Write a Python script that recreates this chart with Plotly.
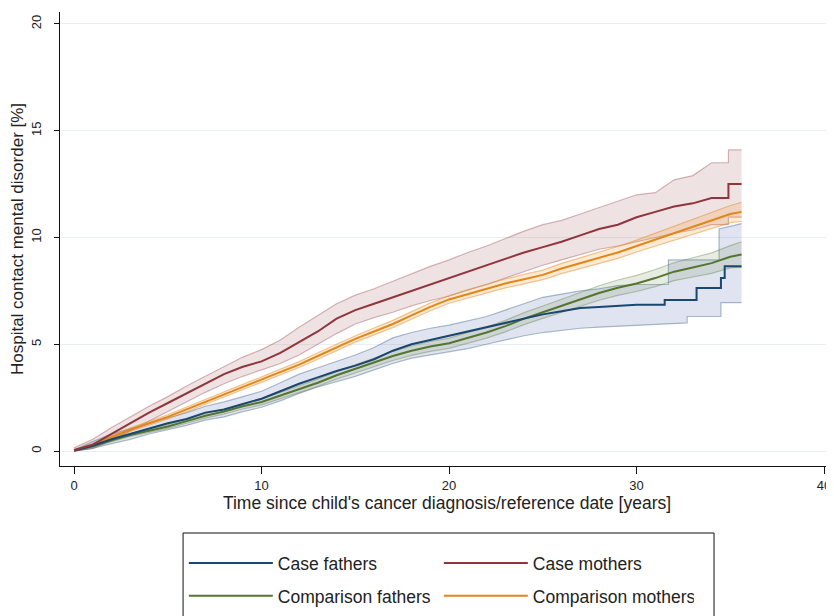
import plotly.graph_objects as go

# ---------------- data ----------------
years = [0, 1, 2, 3, 4, 5, 6, 7, 8, 9, 10, 11, 12, 13, 14, 15, 16, 17, 18, 19, 20,
         21, 22, 23, 24, 25, 26, 27, 28, 29, 30]

# Case mothers
cm_t = years + [31, 32, 33, 34, 34.9, 34.9, 35.6]
cm_v = [0.05, 0.3, 0.8, 1.3, 1.8, 2.25, 2.7, 3.15, 3.6, 3.95, 4.2, 4.6, 5.1, 5.6, 6.2, 6.6,
        6.9, 7.2, 7.5, 7.8, 8.1, 8.4, 8.7, 9.0, 9.3, 9.55, 9.8, 10.1, 10.4, 10.6, 10.95,
        11.2, 11.45, 11.6, 11.85, 11.85, 12.5, 12.5]
cm_up_t = years + [31, 32, 33, 34, 34.9, 34.9, 35.6]
cm_up = [0.15, 0.55, 1.1, 1.6, 2.1, 2.55, 3.05, 3.5, 3.95, 4.4, 4.75, 5.2, 5.8, 6.35, 6.9,
         7.3, 7.6, 7.95, 8.3, 8.65, 8.95, 9.3, 9.6, 9.95, 10.3, 10.6, 10.8, 11.1, 11.4, 11.7,
         12.0, 12.1, 12.7, 12.9, 13.5, 13.5, 14.1, 14.1]
cm_lo = [0.0, 0.12, 0.5, 0.95, 1.4, 1.85, 2.3, 2.75, 3.15, 3.5, 3.8, 4.1, 4.5, 5.0, 5.5,
         5.95, 6.25, 6.5, 6.8, 7.05, 7.25, 7.55, 7.8, 8.1, 8.4, 8.7, 8.95, 9.2, 9.45, 9.6,
         9.8, 10.0, 10.2, 10.35, 10.6, 10.6, 10.95, 10.95]

# Comparison mothers
co_m_t = years + [31, 32, 33, 34, 35, 35.6]
co_m_v = [0.02, 0.3, 0.65, 1.0, 1.3, 1.6, 1.95, 2.3, 2.65, 3.0, 3.35, 3.7, 4.05, 4.45, 4.85,
          5.25, 5.6, 5.95, 6.35, 6.75, 7.1, 7.35, 7.6, 7.85, 8.05, 8.25, 8.55, 8.8, 9.05,
          9.3, 9.6, 9.9, 10.2, 10.5, 10.8, 11.1, 11.2]
co_m_up = [0.05, 0.35, 0.72, 1.08, 1.39, 1.7, 2.06, 2.41, 2.77, 3.12, 3.47, 3.83, 4.19, 4.6,
           5.0, 5.4, 5.76, 6.12, 6.53, 6.93, 7.28, 7.54, 7.8, 8.06, 8.27, 8.47, 8.79, 9.05,
           9.31, 9.58, 9.88, 10.2, 10.52, 10.84, 11.17, 11.5, 11.65]
co_m_lo = [0.0, 0.25, 0.58, 0.92, 1.21, 1.5, 1.84, 2.19, 2.53, 2.88, 3.23, 3.57, 3.91, 4.3,
           4.7, 5.1, 5.44, 5.78, 6.17, 6.57, 6.92, 7.16, 7.4, 7.64, 7.83, 8.03, 8.31, 8.55,
           8.79, 9.02, 9.32, 9.6, 9.88, 10.16, 10.43, 10.7, 10.75]

# Comparison fathers
co_f_t = years + [31, 32, 33, 34, 35, 35.6]
co_f_v = [0.02, 0.22, 0.5, 0.75, 0.95, 1.15, 1.4, 1.65, 1.85, 2.1, 2.3, 2.6, 2.9, 3.2, 3.55,
          3.85, 4.15, 4.45, 4.7, 4.9, 5.05, 5.3, 5.55, 5.85, 6.2, 6.5, 6.8, 7.1, 7.4, 7.65,
          7.85, 8.1, 8.4, 8.6, 8.8, 9.1, 9.2]
co_f_up = [0.05, 0.27, 0.56, 0.82, 1.03, 1.24, 1.5, 1.76, 1.97, 2.23, 2.44, 2.75, 3.06, 3.37,
           3.73, 4.04, 4.35, 4.66, 4.92, 5.13, 5.29, 5.55, 5.81, 6.12, 6.48, 6.79, 7.1, 7.42,
           7.74, 8.01, 8.23, 8.5, 8.82, 9.05, 9.28, 9.62, 9.8]
co_f_lo = [0.0, 0.17, 0.44, 0.68, 0.87, 1.06, 1.3, 1.54, 1.73, 1.97, 2.16, 2.45, 2.74, 3.03,
           3.37, 3.66, 3.95, 4.24, 4.48, 4.67, 4.81, 5.05, 5.29, 5.58, 5.92, 6.21, 6.5, 6.78,
           7.06, 7.29, 7.47, 7.7, 7.98, 8.15, 8.32, 8.58, 8.6]

# Case fathers
cf_t = years + [31.5, 31.5, 33.2, 33.2, 34.5, 34.5, 34.7, 34.7, 35.6]
cf_v = [0.02, 0.25, 0.55, 0.8, 1.05, 1.3, 1.5, 1.8, 1.95, 2.2, 2.45, 2.8, 3.15, 3.45, 3.75,
        4.0, 4.3, 4.7, 5.0, 5.2, 5.4, 5.6, 5.8, 6.0, 6.2, 6.4, 6.55, 6.7, 6.75, 6.8, 6.85,
        6.85, 7.07, 7.07, 7.63, 7.63, 8.1, 8.1, 8.65, 8.65]
cf_up_t = years + [31.7, 31.7, 34.4, 34.4, 35.6]
cf_up = [0.05, 0.45, 0.8, 1.05, 1.3, 1.55, 1.8, 2.1, 2.3, 2.55, 2.8, 3.2, 3.6, 3.9, 4.2, 4.5,
         4.85, 5.3, 5.55, 5.75, 5.9, 6.1, 6.3, 6.6, 6.9, 7.2, 7.35, 7.5, 7.6, 7.75, 7.8,
         7.8, 8.95, 8.95, 10.4, 10.65]
cf_lo_t = years + [32.7, 32.7, 34.5, 34.5, 35.6]
cf_lo = [0.0, 0.12, 0.35, 0.55, 0.8, 1.0, 1.2, 1.45, 1.6, 1.85, 2.05, 2.35, 2.7, 3.0, 3.25,
         3.5, 3.8, 4.1, 4.35, 4.5, 4.65, 4.8, 5.0, 5.2, 5.4, 5.55, 5.65, 5.75, 5.8, 5.85, 5.9,
         6.0, 6.3, 6.3, 6.95, 6.95]

x_ticks = [0, 10, 20, 30, 40]
y_ticks = [0, 5, 10, 15, 20]

# ---------------- styling ----------------
NAVY = "#1a476f"
MAROON = "#90353b"
GREEN = "#55752f"
ORANGE = "#e3861a"

FONT = "Liberation Sans, Arial, sans-serif"

fig = go.Figure()


def band(xu, yu, xl, yl, edge, fill):
    fig.add_trace(go.Scatter(x=xu, y=yu, mode="lines", line=dict(color=edge, width=1.2),
                             showlegend=False, hoverinfo="skip"))
    fig.add_trace(go.Scatter(x=xl, y=yl, mode="lines", line=dict(color=edge, width=1.2),
                             fill="tonexty", fillcolor=fill, showlegend=False,
                             hoverinfo="skip"))


band(cm_up_t, cm_up, cm_up_t, cm_lo, "rgba(144,53,59,0.35)", "rgba(144,53,59,0.14)")
band(cf_up_t, cf_up, cf_lo_t, cf_lo, "rgba(26,71,111,0.35)", "rgba(60,90,170,0.16)")
band(co_f_t, co_f_up, co_f_t, co_f_lo, "rgba(85,117,47,0.35)", "rgba(85,117,47,0.14)")
band(co_m_t, co_m_up, co_m_t, co_m_lo, "rgba(227,134,26,0.45)", "rgba(240,160,60,0.22)")

fig.add_trace(go.Scatter(x=co_f_t, y=co_f_v, mode="lines", name="Comparison fathers",
                         line=dict(color=GREEN, width=2), legend="legend2", legendrank=1))
fig.add_trace(go.Scatter(x=co_m_t, y=co_m_v, mode="lines", name="Comparison mothers",
                         line=dict(color=ORANGE, width=2), legend="legend2", legendrank=2))
fig.add_trace(go.Scatter(x=cf_t, y=cf_v, mode="lines", name="Case fathers",
                         line=dict(color=NAVY, width=2), legend="legend", legendrank=1))
fig.add_trace(go.Scatter(x=cm_t, y=cm_v, mode="lines", name="Case mothers",
                         line=dict(color=MAROON, width=2), legend="legend", legendrank=2))

leg_common = dict(orientation="h", x=0.160, xanchor="left", yanchor="middle",
                  font=dict(family=FONT, size=17.5, color="#222"),
                  bgcolor="rgba(0,0,0,0)", borderwidth=0, itemwidth=84,
                  entrywidth=156, entrywidthmode="pixels", traceorder="normal")

# the page adds an 8px body margin, so the figure is 8px smaller and margins shifted
fig.update_layout(
    width=826, height=608,
    margin=dict(l=52, r=0, t=4, b=150),
    paper_bgcolor="white", plot_bgcolor="white",
    font=dict(family=FONT, color="#222"),
    legend=dict(y=-0.2137, **leg_common),
    legend2=dict(y=-0.2863, **leg_common),
    shapes=[dict(type="rect", xref="paper", yref="paper", x0=0.159, x1=0.845,
                 y0=-0.36, y1=-0.1476, line=dict(color="#111", width=1),
                 fillcolor="rgba(0,0,0,0)", layer="above")],
)

fig.update_xaxes(range=[-0.75, 40.53], tickvals=x_ticks, ticks="outside", ticklen=7,
                 tickcolor="#111", showline=True, linecolor="#111", linewidth=1.2,
                 showgrid=False, zeroline=False, automargin=False,
                 tickfont=dict(family=FONT, size=13, color="#222"),
                 title=dict(text="Time since child's cancer diagnosis/reference date [years]",
                            font=dict(family=FONT, size=17.5, color="#222"), standoff=0))
fig.update_yaxes(range=[-0.7, 20.56], tickvals=y_ticks, ticks="outside", ticklen=5,
                 tickcolor="#111", showline=True, linecolor="#111", linewidth=1.2,
                 showgrid=True, gridcolor="#eaf0f1", gridwidth=1, zeroline=False,
                 tickangle=-90, automargin=False, ticklabelstandoff=8,
                 tickfont=dict(family=FONT, size=13, color="#222"),
                 title=dict(text="Hospital contact mental disorder [%]",
                            font=dict(family=FONT, size=17, color="#222"), standoff=0))

fig.write_html("out.html")
